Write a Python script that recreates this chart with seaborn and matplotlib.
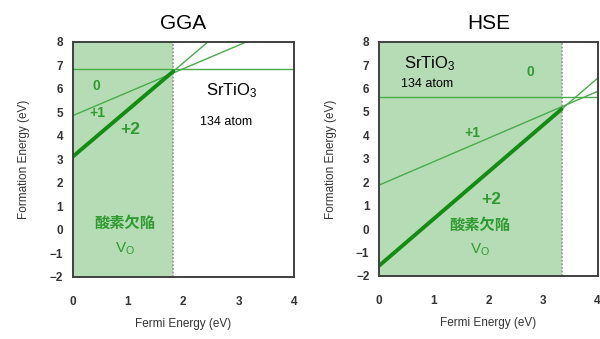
import matplotlib
matplotlib.use('Agg')
import matplotlib.pyplot as plt
import seaborn as sns

sns.set_theme(style="white")
plt.rcParams['font.family'] = ['Liberation Sans', 'Noto Sans CJK JP', 'DejaVu Sans']
plt.rcParams['mathtext.fontset'] = 'custom'
plt.rcParams['mathtext.rm'] = 'Liberation Sans'
plt.rcParams['mathtext.it'] = 'Liberation Sans:italic'

# Fermi energy range and formation energies at its ends
fermi_ends = [0, 4]
gga_q0 = [6.85, 6.85]
gga_q1 = [4.85, 8.85]
gga_q2 = [3.10, 11.10]
hse_q0 = [5.62, 5.62]
hse_q1 = [1.88, 5.88]
hse_q2 = [-1.56, 6.44]

# band gap edge and the V_O(+2) value there
gga_gap = 1.82
hse_gap = 3.34
gga_q2_gap = [3.10, 6.74]
hse_q2_gap = [-1.56, 5.12]

x_ticks = [0, 1, 2, 3, 4]
y_ticks = [-2, -1, 0, 1, 2, 3, 4, 5, 6, 7, 8]

shade = '#b5dcb5'
thin = '#4aab4a'
thick = '#148c14'
txt_green = '#2f9a2f'
axis_grey = '#333333'

fig = plt.figure(figsize=(6, 3.39), dpi=100)
ax1 = fig.add_axes([0.121, 0.184, 0.369, 0.693])
ax2 = fig.add_axes([0.632, 0.186, 0.364, 0.691])


def draw_panel(ax, title, gap, q0, q1, q2, q2_gap):
    ax.axvspan(0, gap, color=shade, lw=0, zorder=0)
    ax.axvline(gap, color='#9a9a9a', ls=(0, (1, 1)), lw=1.3, zorder=1)
    sns.lineplot(x=fermi_ends, y=q0, ax=ax, color=thin, lw=1.0)
    sns.lineplot(x=fermi_ends, y=q1, ax=ax, color=thin, lw=1.0)
    sns.lineplot(x=fermi_ends, y=q2, ax=ax, color=thin, lw=1.0)
    sns.lineplot(x=[0, gap], y=q2_gap, ax=ax, color=thick, lw=2.8)
    ax.set_xlim(0, 4)
    ax.set_ylim(-2, 8)
    ax.set_xticks(x_ticks)
    ax.set_yticks(y_ticks)
    ax.set_yticklabels([str(v).replace('-', '\u2212') for v in y_ticks])
    ax.tick_params(axis='both', labelsize=8.5, colors=axis_grey, direction='in',
                   length=2, width=0.6)
    ax.tick_params(axis='x', pad=14)
    ax.tick_params(axis='y', pad=7)
    for lab in ax.get_xticklabels() + ax.get_yticklabels():
        lab.set_fontweight('bold')
    for sp in ax.spines.values():
        sp.set_color('#404040')
        sp.set_linewidth(1.4)
    ax.set_xlabel('Fermi Energy (eV)', fontsize=8.5, color=axis_grey, labelpad=7)
    ax.set_ylabel('Formation Energy (eV)', fontsize=8.5, color=axis_grey, labelpad=14)
    ax.set_title(title, fontsize=15, color='black', pad=9)


draw_panel(ax1, 'GGA', gga_gap, gga_q0, gga_q1, gga_q2, gga_q2_gap)
draw_panel(ax2, 'HSE', hse_gap, hse_q0, hse_q1, hse_q2, hse_q2_gap)

jp = ['Noto Sans CJK JP', 'DejaVu Sans']

# GGA annotations
ax1.text(0.43, 6.1, '0', color=txt_green, fontsize=10, fontweight='bold', ha='center', va='center')
ax1.text(0.45, 4.95, '+1', color=txt_green, fontsize=10, fontweight='bold', ha='center', va='center')
ax1.text(1.04, 4.27, '+2', color=txt_green, fontsize=12.5, fontweight='bold', ha='center', va='center')
ax1.text(2.87, 5.9, 'SrTiO$_3$', color='black', fontsize=12, ha='center', va='center')
ax1.text(2.77, 4.57, '134 atom', color='black', fontsize=9, ha='center', va='center')
ax1.text(0.95, 0.3, '酸素欠陥', color=txt_green, fontsize=11, fontweight='bold',
         family=jp, ha='center', va='center')
ax1.text(0.95, -0.8, 'V$_\\mathrm{O}$', color=txt_green, fontsize=11, ha='center', va='center')

# HSE annotations
ax2.text(0.93, 7.08, 'SrTiO$_3$', color='black', fontsize=12, ha='center', va='center')
ax2.text(0.87, 6.2, '134 atom', color='black', fontsize=9, ha='center', va='center')
ax2.text(2.76, 6.72, '0', color=txt_green, fontsize=10, fontweight='bold', ha='center', va='center')
ax2.text(1.71, 4.09, '+1', color=txt_green, fontsize=10, fontweight='bold', ha='center', va='center')
ax2.text(2.06, 1.27, '+2', color=txt_green, fontsize=12.5, fontweight='bold', ha='center', va='center')
ax2.text(1.85, 0.18, '酸素欠陥', color=txt_green, fontsize=11, fontweight='bold',
         family=jp, ha='center', va='center')
ax2.text(1.85, -0.89, 'V$_\\mathrm{O}$', color=txt_green, fontsize=11, ha='center', va='center')

fig.savefig('out.png', dpi=100)
